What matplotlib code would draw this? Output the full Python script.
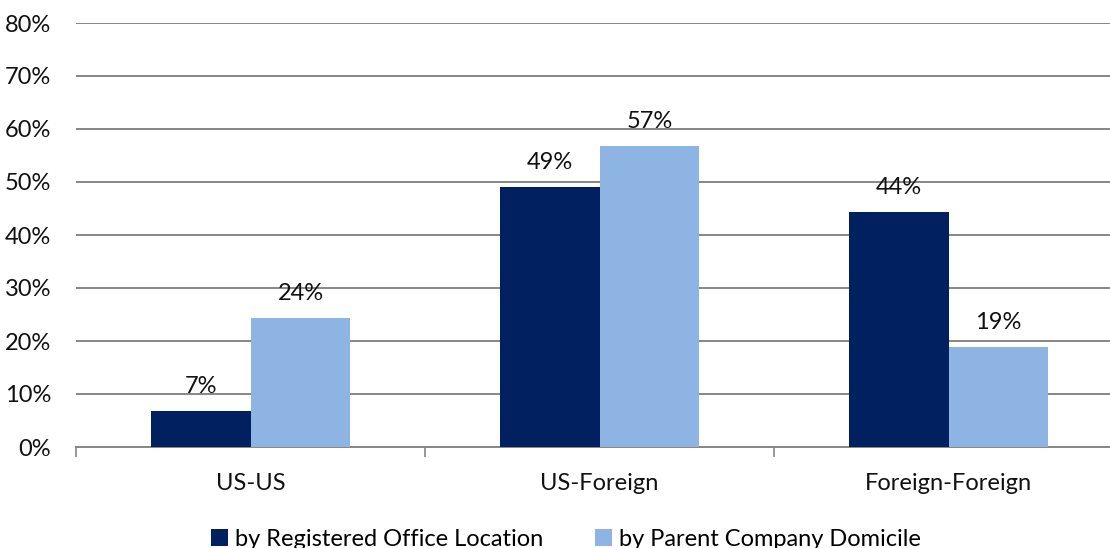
import matplotlib
matplotlib.use("Agg")
import matplotlib.pyplot as plt
import numpy as np

categories = ["US-US", "US-Foreign", "Foreign-Foreign"]
registered = [6.8, 49.0, 44.4]
parent = [24.3, 56.8, 18.9]
series_names = ["by Registered Office Location", "by Parent Company Domicile"]

dark = "#002060"
light = "#8EB4E3"
grid_col = "#868686"
fs = 17

plt.rcParams['font.family'] = ['Lato', 'DejaVu Sans']

fig = plt.figure(figsize=(11.1, 5.48), dpi=100)
ax = fig.add_axes([76 / 1110, 101 / 548, 1047 / 1110, 424 / 548])

x = np.arange(len(categories))
w = 0.2865
b1 = ax.bar(x - w / 2, registered, w, color=dark, label=series_names[0], zorder=3)
b2 = ax.bar(x + w / 2, parent, w, color=light, label=series_names[1], zorder=3)

for bars, vals in ((b1, registered), (b2, parent)):
    for r, v in zip(bars, vals):
        ax.annotate("%.0f%%" % v, (r.get_x() + r.get_width() / 2, v),
                    xytext=(0, 10), textcoords="offset points",
                    ha="center", va="bottom", fontsize=fs, color="#111111")

ax.set_xlim(-0.5, 2.5)
ax.set_ylim(0, 80)
ax.set_yticks(np.arange(0, 81, 10))
ax.set_yticklabels(["%d%%" % t for t in range(0, 81, 10)])
ax.yaxis.grid(True, color=grid_col, linewidth=1.4, zorder=0)
ax.set_axisbelow(True)

ax.set_xticks(x)
ax.set_xticklabels(categories)
ax.set_xticks([-0.5, 0.5, 1.5, 2.5], minor=True)
ax.tick_params(axis="x", which="major", length=0, pad=19, labelsize=fs)
ax.tick_params(axis="x", which="minor", length=7, width=1.2, color=grid_col)
ax.tick_params(axis="y", length=0, pad=18, labelsize=fs, labelcolor="#111111")
ax.tick_params(axis="x", labelcolor="#111111")

for s in ("left", "right", "top"):
    ax.spines[s].set_visible(False)
ax.spines["bottom"].set_color(grid_col)
ax.spines["bottom"].set_linewidth(1.4)

fig.legend(loc="lower center", bbox_to_anchor=(0.51, -0.042), ncol=2, frameon=False,
           fontsize=fs, handlelength=0.7, handleheight=0.7, handletextpad=0.3,
           columnspacing=2.2)

fig.savefig("out.png", dpi=100)
